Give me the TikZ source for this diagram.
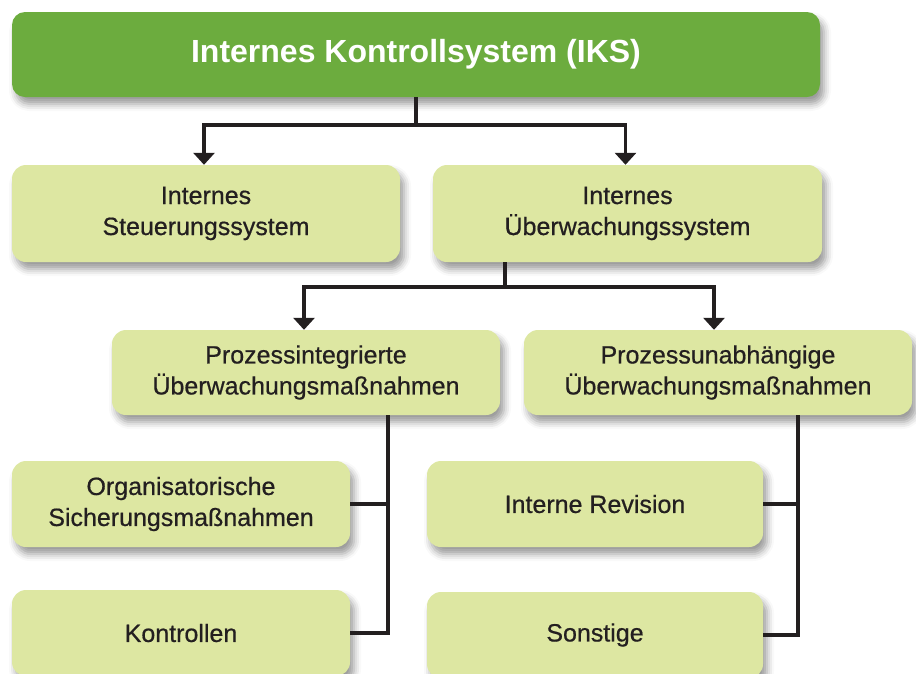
\documentclass[tikz,border=0pt]{standalone}
\usepackage{fontspec}
\setmainfont{Liberation Sans}
\newfontfamily\boxfont{Liberation Sans}[FakeBold=0.6]
\usepackage{tikz}
\usetikzlibrary{arrows.meta,shapes,positioning,shadows,shadows.blur,calc}
\usepackage{xcolor}
\definecolor{iksgreen}{RGB}{108,172,62}
\definecolor{ikslight}{RGB}{221,231,162}
\definecolor{iksdark}{RGB}{35,31,32}
\tikzstyle{line} = [line width=3.2pt,color=iksdark]
\tikzstyle{arrow} = [line width=3.2pt,-{Triangle[width=21pt,length=12pt]},color=iksdark]
\tikzstyle{softshadow} = [blur shadow={shadow xshift=4pt, shadow yshift=-7pt, shadow blur radius=7pt, shadow opacity=40}]
\tikzstyle{titlebox} = [rectangle, rounded corners=13pt, minimum width=808pt, minimum height=85pt, text centered, fill=iksgreen, text=white, softshadow, font=\fontsize{32}{38}\selectfont\bfseries]
\tikzstyle{partbox} = [rectangle, rounded corners=14pt, minimum height=86pt, align=center, fill=ikslight, text=iksdark, softshadow, font=\boxfont\fontsize{25}{31}\selectfont]

\begin{document}
\begin{tikzpicture}[x=1pt,y=-1pt]
\useasboundingbox (0,0) rectangle (916,673);

% Title
\node[titlebox] (iks) at (416,54.5) {Internes Kontrollsystem (IKS)};

% Second level
\node[partbox, minimum width=388pt, minimum height=97pt] (steuer) at (206,213.5) {Internes\\Steuerungssystem};
\node[partbox, minimum width=389pt, minimum height=97pt] (ueber) at (627.5,213.5) {Internes\\Überwachungssystem};

% Third level
\node[partbox, minimum width=388pt, minimum height=85pt] (integ) at (306,372.5) {Prozessintegrierte\\Überwachungsmaßnahmen};
\node[partbox, minimum width=388pt, minimum height=85pt] (unab) at (718,372.5) {Prozessunabhängige\\Überwachungsmaßnahmen};

% Leaves
\node[partbox, minimum width=338pt] (orga) at (181,504) {Organisatorische\\Sicherungsmaßnahmen};
\node[partbox, minimum width=338pt] (kontr) at (181,633) {Kontrollen};
\node[partbox, minimum width=336pt] (rev) at (595,504) {Interne Revision};
\node[partbox, minimum width=336pt] (sonst) at (595,635) {Sonstige};

% Junctions
\coordinate (j1) at (416,125);
\coordinate (j2) at (505,287);
\coordinate (j3) at (388,0);
\coordinate (j4) at (798,0);

% Arrows
\draw[line] (iks.south) -- (j1);
\draw[arrow] (j1) -| ($(steuer.north)+(-2,0)$);
\draw[arrow] (j1) -| ($(ueber.north)+(-2,0)$);
\draw[line] (ueber.south -| j2) -- (j2);
\draw[arrow] (j2) -| ($(integ.north)+(-2,0)$);
\draw[arrow] (j2) -| ($(unab.north)+(-4,0)$);

% Branches
\draw[line] (integ.south -| j3) |- (kontr.east);
\draw[line] (orga.east) -- (orga.east -| j3);
\draw[line] (unab.south -| j4) |- (sonst.east);
\draw[line] (rev.east) -- (rev.east -| j4);
\end{tikzpicture}
\end{document}
